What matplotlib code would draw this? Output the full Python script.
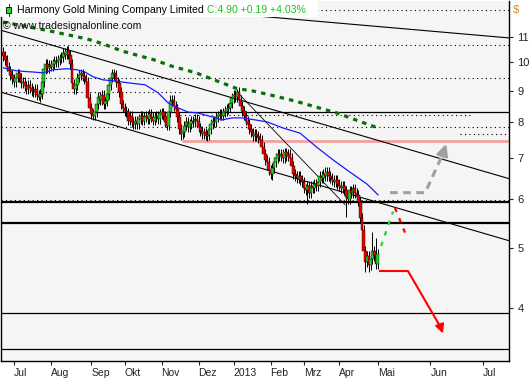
import matplotlib
matplotlib.use('Agg')
import matplotlib.pyplot as plt
import numpy as np
from matplotlib.patches import Rectangle

# x axis = trading-day index (Jul 2 2012 = 0), calendar days after May 2013
FIRST_IDX = -6
closes = [
    10.25, 10.10, 9.85, 9.70, 9.55, 9.40,
    9.30, 9.45, 9.60, 9.45, 9.25, 9.30,
    9.15, 9.05, 9.20, 9.10, 9.00,
    8.95, 9.05, 8.85, 8.80, 8.90,
    9.30, 9.75, 9.95, 9.80,
    9.90, 9.85, 9.95, 10.05, 10.00,
    10.10, 10.15, 10.20, 10.35, 10.30, 10.45,
    10.30, 9.95, 9.25, 9.05, 9.20,
    9.45, 9.55, 9.60, 9.50, 9.40, 9.30,
    8.75, 8.45, 8.25, 8.20, 8.30, 8.55,
    8.80, 8.70, 8.85, 8.55, 8.65,
    8.90, 9.20, 9.45, 9.60, 9.55, 9.30,
    9.25, 8.95, 8.55, 8.45,
    8.35, 8.30, 8.05, 8.20,
    8.00, 7.95, 8.05, 7.95,
    8.10, 8.20, 8.05, 8.15,
    8.20, 8.10, 8.25, 8.15,
    8.05, 8.15, 8.20, 8.10,
    8.25, 8.30, 8.20, 8.00, 7.90,
    8.30, 8.65, 8.70,
    8.50, 8.40, 8.15, 7.80, 7.65, 7.70,
    7.90, 8.00, 7.85, 7.95, 8.05,
    8.00, 8.10, 8.05,
    7.85, 7.75, 7.65, 7.70, 7.60, 7.62,
    7.80, 7.95, 8.05, 8.00,
    8.15, 8.20, 8.25, 8.20, 8.30,
    8.35, 8.40, 8.45,
    8.60, 8.75, 8.85, 8.80, 8.95,
    8.70, 8.50, 8.35, 8.20,
    8.05, 7.95, 7.80, 7.70, 7.60, 7.65,
    7.60, 7.55, 7.50,
    7.30, 7.10, 6.95, 6.90,
    6.70, 6.60, 6.75,
    6.90, 7.00, 7.10, 7.05,
    7.10, 7.00, 7.15, 7.05, 7.10, 7.00,
    6.80, 6.60, 6.55,
    6.50, 6.55, 6.45, 6.40,
    6.25, 6.20, 6.30, 6.15,
    6.30, 6.25, 6.35, 6.30,
    6.40, 6.55, 6.50,
    6.60, 6.55, 6.65, 6.55,
    6.50, 6.45, 6.40, 6.45,
    6.35, 6.30, 6.25, 6.30, 6.20,
    6.05, 6.00,
    6.20, 6.15, 6.25,
    6.15, 6.10,
    5.95, 5.60, 5.35,
    4.95, 4.75,
    4.85, 4.70, 4.80,
    4.95, 4.85, 4.71, 4.90,
]
first_open = 10.40
spike_high = {30: 10.62, 56: 9.75, 89: 8.85, 127: 9.05, 177: 6.78, 204: 5.30, 206: 5.20}
spike_low = {14: 8.70, 95: 7.48, 109: 7.48, 147: 6.45, 167: 5.90, 189: 5.62, 200: 4.58, 202: 4.58}

month_pos = [0, 21, 44, 63, 84, 105, 125, 146, 165, 185, 207, 237, 267]
month_lbl = ['Jul', 'Aug', 'Sep', 'Okt', 'Nov', 'Dez', '2013', 'Feb', 'Mrz', 'Apr', 'Mai', 'Jun', 'Jul']
price_ticks = [4, 5, 6, 7, 8, 9, 10, 11]

# blue average
ma_idx = [-6, 1.7, 10.8, 16.5, 22.2, 30.2, 35.9, 40.4, 45, 50.7, 56.3, 66, 74.6, 82, 87.7,
          93.4, 99, 104.7, 112.7, 118.4, 124.1, 129.8, 137.2, 144, 153.1, 162.8, 172.5,
          181.6, 191.2, 200.9, 207.2]
ma_val = [9.80, 9.69, 9.65, 9.62, 9.73, 9.77, 9.73, 9.65, 9.48, 9.37, 9.34, 9.26, 9.20, 8.93, 8.60,
          8.44, 8.31, 8.28, 8.16, 8.07, 8.13, 8.13, 8.07, 8.01, 7.83, 7.68, 7.28,
          6.95, 6.64, 6.35, 6.10]

# green dotted average
ma2_idx = [-6.3, 17.6, 41.5, 50.7, 60.9, 65.5, 79.7, 89.4, 103.6, 112.7, 126.9, 136, 145.7,
           159.9, 174.2, 183.8, 198.1, 207.2]
ma2_val = [11.63, 11.29, 10.92, 10.72, 10.45, 10.36, 10.10, 9.87, 9.62, 9.40, 9.07, 8.99, 8.86,
           8.66, 8.43, 8.28, 8.00, 7.83]

X0, X1 = -7.4, 281.7
dotted_levels = [(12.17, X0, X1), (10.68, X0, X1), (9.42, X0, X1), (8.95, X0, 94.5),
                 (8.22, 94.5, 260), (7.85, X0, X1), (7.67, 254, X1), (5.99, X0, X1)]
solid_levels = [8.30, 3.93, 3.43]
thick_levels = [5.93, 5.50]
pink_level = (7.46, 95.6, X1)

trend_lines = [((-7.97, 12.93), (281.7, 10.96)),
               ((-7.97, 11.29), (281.7, 6.48)),
               ((-7.97, 8.96), (281.7, 5.14))]
steep_line = ((126.9, 8.96), (188.4, 5.88))

gray_path = ([214, 234, 244.0], [6.15, 6.15, 7.10])
gray_tip = (246.5, 7.45)
red_path = ([208.3, 224.2, 242.8], [4.59, 4.59, 3.72])
red_tip = (244.7, 3.60)
green_dash = ([208.9, 215.7], [5.04, 5.73])
red_dash = ([216.8, 223.1], [5.81, 5.25])


def px(x, y):
    return x / 531, 1 - y / 380


def main() -> None:
    plt.rcParams['font.family'] = ['Liberation Sans', 'DejaVu Sans']
    fig = plt.figure(figsize=(5.31, 3.80), dpi=100)
    ax = fig.add_axes([1 / 531, 19 / 380, 508 / 531, 360 / 380])
    ax.set_facecolor('#f5f5f5')
    ax.set_yscale('log')
    ax.set_xlim(X0, X1)
    ax.set_ylim(3.28, 12.58)

    c = np.array(closes)
    o = np.r_[first_open, c[:-1]]
    idx = np.arange(FIRST_IDX, FIRST_IDX + len(c))
    hi = np.maximum(o, c) * 1.018
    lo = np.minimum(o, c) * 0.982
    for k, v in spike_high.items():
        hi[k - FIRST_IDX] = v
    for k, v in spike_low.items():
        lo[k - FIRST_IDX] = v

    for lvl, a, b in dotted_levels:
        ax.hlines(lvl, a, b, color='black', lw=0.8, linestyles=(0, (1, 3)), zorder=2)
    for lvl in solid_levels:
        ax.axhline(lvl, color='black', lw=0.9, zorder=2)
    for lvl in thick_levels:
        ax.axhline(lvl, color='black', lw=1.6, zorder=2)
    ax.hlines(pink_level[0], pink_level[1], pink_level[2], color='#f4a0a0', lw=2.0, zorder=2)
    for (xa, ya), (xb, yb) in trend_lines:
        ax.plot([xa, xb], [ya, yb], color='black', lw=0.8, zorder=2)
    ax.plot([steep_line[0][0], steep_line[1][0]], [steep_line[0][1], steep_line[1][1]],
            color='black', lw=0.6, zorder=2)

    ax.plot(ma2_idx, ma2_val, color='#0b6e0b', lw=2.3, linestyle=(0, (1.4, 1.6)), zorder=2)
    ax.plot(ma_idx, ma_val, color='#1a1aff', lw=0.9, zorder=4)

    up = c >= o
    colors = np.where(up, '#22d022', '#ee0000')
    ax.vlines(idx, lo, hi, color='black', lw=0.7, zorder=3)
    body_h = np.maximum(np.abs(c - o), 0.03)
    ax.bar(idx, body_h, bottom=np.minimum(o, c), width=1.6, color=colors,
           edgecolor='black', linewidth=0.3, zorder=3)

    # projections
    ax.plot(*gray_path, color='#a0a0a0', lw=2.2, linestyle=(0, (2.5, 1.8)), zorder=4)
    ax.annotate('', xy=gray_tip, xytext=(gray_path[0][-1], gray_path[1][-1]),
                arrowprops=dict(arrowstyle='-|>', color='#a0a0a0', lw=2, mutation_scale=17),
                zorder=4)
    ax.plot(*red_path, color='#ff0000', lw=1.5, zorder=4)
    ax.annotate('', xy=red_tip, xytext=(red_path[0][-1], red_path[1][-1]),
                arrowprops=dict(arrowstyle='-|>', color='#ff0000', lw=1.5, mutation_scale=13),
                zorder=4)
    ax.plot(*green_dash, color='#33cc33', lw=1.6, linestyle=(0, (2, 3)), zorder=4)
    ax.plot(*red_dash, color='#ff0000', lw=1.6, linestyle=(0, (2, 3)), zorder=4)

    ax.yaxis.tick_right()
    ax.set_yticks(price_ticks)
    ax.set_yticklabels([str(p) for p in price_ticks])
    ax.minorticks_off()
    ax.tick_params(axis='y', length=3, width=0.8, pad=3, labelsize=8, colors='#222222')
    ax.set_xticks(month_pos)
    ax.set_xticklabels(month_lbl)
    ax.tick_params(axis='x', length=3, width=0.8, pad=2, labelsize=7.5, colors='#222222')
    for lab in ax.get_xticklabels():
        lab.set_ha('left')
    ax.spines['top'].set_visible(False)
    for s in ('left', 'right', 'bottom'):
        ax.spines[s].set_linewidth(1.0)

    ax.text(1.008, 12.17, '$', transform=ax.get_yaxis_transform(), color='#c8901a',
            fontsize=8, va='center', ha='left')

    # header
    fig.add_artist(Rectangle(px(0, 17), 318 / 531, 17 / 380, transform=fig.transFigure,
                             fc='white', ec='none', zorder=5))
    fig.add_artist(Rectangle(px(6, 13), 5 / 531, 6 / 380, transform=fig.transFigure,
                             fc='#22dd22', ec='black', lw=0.6, zorder=6))
    fig.add_artist(plt.Line2D([8.5 / 531, 8.5 / 531], [1 - 16 / 380, 1 - 4 / 380],
                              color='black', lw=0.6, zorder=5.5))
    name = fig.text(*px(17, 10), 'Harmony Gold Mining Company Limited', fontsize=7.6,
                    va='center', ha='left', color='black', zorder=7)
    r = fig.canvas.get_renderer()
    end_x = name.get_window_extent(r).x1
    fig.text((end_x + 3) / 531, 1 - 10 / 380, 'C:4.90 +0.19 +4.03%', fontsize=7.6,
             va='center', ha='left', color='#1fc01f', zorder=7)
    fig.text(*px(3, 26), '© www.tradesignalonline.com', fontsize=7.6, va='center',
             ha='left', color='#111111', zorder=7)

    fig.savefig('out.png', dpi=100, facecolor='white')


if __name__ == '__main__':
    main()
